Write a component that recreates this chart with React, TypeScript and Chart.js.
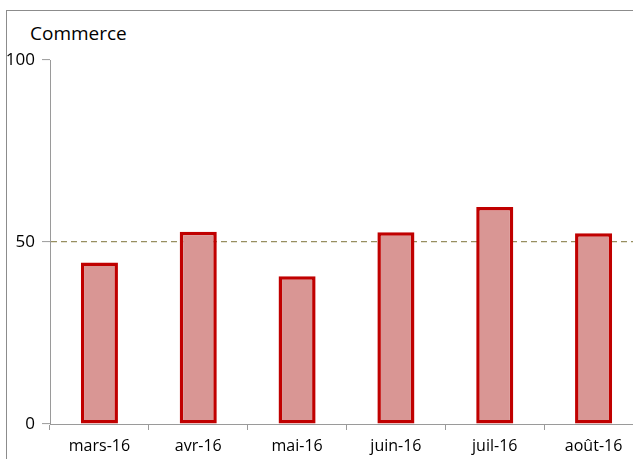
import React, { useEffect, useRef } from "react";
import { Chart, registerables } from "chart.js";

Chart.register(...registerables);

const categories = ["mars-16", "avr-16", "mai-16", "juin-16", "juil-16", "août-16"];
const values = [44.4, 52.8, 40.6, 52.7, 59.6, 52.4];
const yTicks = [0, 50, 100];
const title = "Commerce";

const FONT = "'Open Sans', sans-serif";

export default function App() {
  const ref = useRef<HTMLCanvasElement | null>(null);

  useEffect(() => {
    if (!ref.current) return;
    const chart = new Chart(ref.current, {
      type: "bar",
      data: {
        labels: categories,
        datasets: [
          {
            data: values,
            backgroundColor: "#D99694",
            borderColor: "#C00000",
            borderWidth: 3.5,
            borderSkipped: false,
            barPercentage: 0.375,
            categoryPercentage: 1,
          },
        ],
      },
      options: {
        animation: false,
        responsive: true,
        maintainAspectRatio: false,
        layout: { padding: { top: 60, left: 0, right: 17, bottom: 0 } },
        plugins: {
          legend: { display: false },
          tooltip: { enabled: false },
          title: { display: false },
        },
        scales: {
          x: {
            offset: true,
            grid: {
              offset: true,
              drawOnChartArea: false,
              drawTicks: true,
              tickLength: 6,
              tickColor: "#9a9a9a",
              tickWidth: 1,
            },
            border: { display: true, color: "#9a9a9a", width: 1 },
            ticks: {
              color: "#000",
              padding: 7,
              font: { family: FONT, size: 16, weight: "500" },
              maxRotation: 0,
            },
            afterFit: (scale: any) => {
              scale.height = 35;
            },
          },
          y: {
            min: 0,
            max: 100,
            afterBuildTicks: (scale: any) => {
              scale.ticks = yTicks.map((v) => ({ value: v }));
            },
            grid: {
              drawTicks: true,
              tickLength: 8,
              tickColor: "#9a9a9a",
              tickWidth: 1,
              tickBorderDash: [],
              lineWidth: 1.2,
              color: (ctx: any) =>
                ctx.tick && ctx.tick.value === 50 ? "#978F60" : "rgba(0,0,0,0)",
            },
            border: { display: true, color: "#9a9a9a", width: 1, dash: [6, 4] },
            ticks: {
              color: "#000",
              padding: 7,
              font: { family: FONT, size: 17, weight: "500" },
            },
            afterFit: (scale: any) => {
              scale.width = 50;
            },
          },
        },
      },
    });
    return () => chart.destroy();
  }, []);

  return (
    <div
      style={{
        position: "fixed",
        left: 0,
        top: 0,
        width: 633,
        height: 459,
        overflow: "hidden",
        background: "#fff",
      }}
    >
      <div
        style={{
          position: "absolute",
          left: 6,
          top: 10,
          width: 700,
          height: 500,
          border: "1px solid #8c8c8c",
        }}
      />
      <div
        style={{
          position: "absolute",
          left: 30,
          top: 19,
          fontFamily: FONT,
          fontSize: 19,
          fontWeight: 500,
          color: "#000",
          lineHeight: "28px",
          whiteSpace: "nowrap",
        }}
      >
        {title}
      </div>
      <div style={{ position: "absolute", left: 0, top: 0, width: 660, height: 459 }}>
        <canvas ref={ref} />
      </div>
    </div>
  );
}
